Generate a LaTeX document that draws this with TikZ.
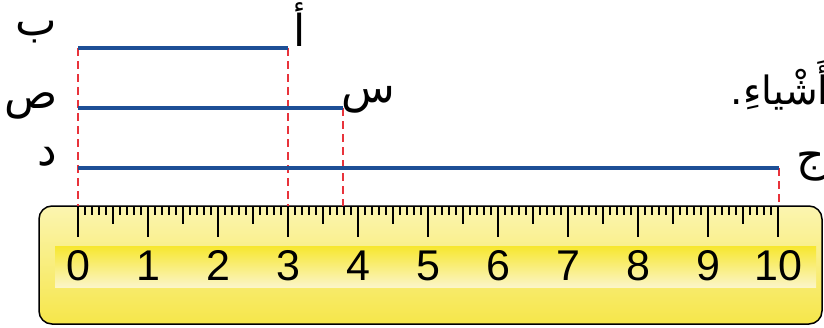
\documentclass[tikz,border=0pt]{standalone}
\usepackage{fontspec}
\setmainfont{Liberation Sans}
\newfontfamily\arabicfont[Script=Arabic]{DejaVu Sans}
\TeXXeTstate=1
\definecolor{lineblue}{HTML}{1D4F96}
\definecolor{dashred}{HTML}{E8333B}
\definecolor{rulertop}{HTML}{FBF5B0}
\definecolor{rulerbot}{HTML}{F6E64A}
\definecolor{bandtop}{HTML}{F7E72E}
\definecolor{bandbot}{HTML}{FBF5C8}
\tikzset{
  seg/.style={line width=3.5pt, color=lineblue},
  guide/.style={dash pattern=on 8pt off 5pt, line width=1.3pt, color=dashred},
  tick/.style={line width=1.4pt, black},
  digit/.style={anchor=base, inner sep=0pt, font=\fontsize{43}{43}\selectfont},
  letter/.style={inner sep=0pt, font=\fontsize{44}{44}\selectfont\arabicfont}
}
\begin{document}
\begin{tikzpicture}[x=1pt,y=-1pt]
\useasboundingbox (0,0) rectangle (824,327);
% ruler body
\draw[rounded corners=13pt, line width=1.5pt, top color=rulertop, bottom color=rulerbot] (39,206) rectangle (822,324);
\shade[top color=bandtop, bottom color=bandbot] (55,246) rectangle (816,287);
% ticks
\foreach \i in {0,...,100}{
  \pgfmathsetmacro\len{ifthenelse(mod(\i,10)==0,31,ifthenelse(mod(\i,5)==0,18,9))}
  \draw[tick] (78+7*\i,206) -- ++(0,\len);
}
% digits
\foreach \n in {0,...,10}{
  \node[digit] (d\n) at (78+70*\n,280.5) {\n};
}
% endpoints
\coordinate (pB) at (78,48);
\coordinate (pA) at (288,48);
\coordinate (pS) at (78,108);
\coordinate (pSin) at (343,108);
\coordinate (pD) at (78,168);
\coordinate (pJ) at (779,168);
\coordinate (r0) at (78,206);
\coordinate (r3) at (288,206);
\coordinate (r4) at (343,206);
\coordinate (r10) at (779,206);
% guides
\draw[guide] (pB) -- (r0);
\draw[guide] (pA) -- (r3);
\draw[guide] (pSin) -- (r4);
\draw[guide] (pJ) -- (r10);
% segments
\draw[seg] (pB) -- (pA);
\draw[seg] (pS) -- (pSin);
\draw[seg] (pD) -- (pJ);
% labels
\node[letter] (lB) at (36,32) {\beginR ب\endR};
\node[letter] (lA) at (300,25) {\beginR أ\endR};
\node[letter] (lS) at (31,106) {\beginR ص\endR};
\node[letter] (lSin) at (368,100) {\beginR س\endR};
\node[letter] (lD) at (47,157) {\beginR د\endR};
\node[letter] (lJ) at (811,167) {\beginR ج\endR};
\node[letter, anchor=east, font=\fontsize{39}{39}\selectfont\arabicfont] (tail) at (829,85) {\beginR أَشْياءِ.\endR};
\end{tikzpicture}
\end{document}
